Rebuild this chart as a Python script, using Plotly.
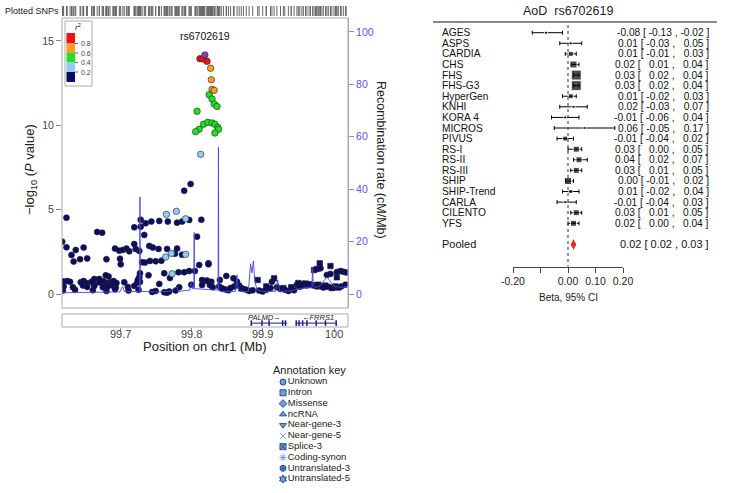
import plotly.graph_objects as go

W, H = 730, 493
def fx(p): return p / W
def fy(p): return 1 - p / H

FONT = "Liberation Sans, Arial, sans-serif"

# ---------------- Locus data ----------------
ref_pos = [99.819]; ref_logp = [14.17]
red_pos = [99.812, 99.816, 99.822]; red_logp = [13.95, 13.93, 13.79]
orange_pos = [99.827, 99.828, 99.829, 99.832]; orange_logp = [13.38, 12.70, 12.13, 12.07]
green_pos = [99.825, 99.829, 99.832, 99.836, 99.808, 99.817, 99.823, 99.829, 99.833, 99.837, 99.838, 99.811, 99.806, 99.833]
green_logp = [11.81, 11.56, 11.26, 11.12, 10.83, 10.06, 10.18, 10.14, 10.06, 9.88, 9.76, 9.76, 9.62, 9.54]
lblue_pos = [99.813, 99.765, 99.779, 99.792, 99.772, 99.764, 99.792, 99.773]
lblue_logp = [8.28, 4.72, 4.90, 4.46, 2.41, 2.19, 2.35, 1.20]
navy_pos = [99.625, 99.619, 99.625, 99.632, 99.638, 99.635, 99.644, 99.649, 99.654, 99.668, 99.675, 99.681,
            99.693, 99.699, 99.704, 99.709, 99.713, 99.720, 99.722, 99.727, 99.700, 99.701, 99.720, 99.729,
            99.736, 99.729, 99.734, 99.744, 99.755, 99.767, 99.780, 99.787, 99.797, 99.814, 99.808, 99.741,
            99.746, 99.754, 99.766, 99.780, 99.777, 99.787, 99.758, 99.742, 99.750, 99.731, 99.735, 99.824,
            99.811, 99.762, 99.782, 99.790, 99.797, 99.805, 99.740, 99.728, 99.727, 99.725, 99.680, 99.684,
            99.664, 99.671, 99.799, 99.790,
            99.620, 99.626, 99.630, 99.645, 99.649, 99.653, 99.660, 99.663, 99.671, 99.677, 99.681, 99.686,
            99.691, 99.695, 99.706, 99.724, 99.728,
            99.621, 99.634, 99.648, 99.654, 99.664, 99.676, 99.683, 99.690, 99.694, 99.711, 99.720,
            99.620, 99.637, 99.662, 99.681, 99.693, 99.712, 99.726,
            99.745, 99.750, 99.762, 99.766, 99.769, 99.778, 99.770, 99.783, 99.800, 99.755,
            99.815, 99.818, 99.822, 99.828, 99.824, 99.815, 99.826, 99.830,
            99.840, 99.849, 99.859, 99.839, 99.842, 99.845, 99.849, 99.852, 99.855, 99.860, 99.864, 99.867,
            99.870, 99.873, 99.877, 99.881, 99.886, 99.895, 99.900, 99.905, 99.911, 99.913, 99.920, 99.925,
            99.931, 99.936, 99.940, 99.944,
            99.948, 99.952, 99.957, 99.962, 99.967, 99.976, 99.985, 99.990, 99.995, 100.000, 100.004, 100.009,
            100.013, 100.017, 100.010, 100.016, 99.981]
navy_logp = [4.52, 3.10, 2.77, 2.31, 2.61, 1.92, 2.06, 2.75, 2.11, 3.68, 3.63, 2.06,
             2.69, 2.57, 2.61, 2.69, 2.53, 2.96, 2.67, 2.55, 2.09, 1.76, 3.95, 4.40,
             4.19, 3.99, 3.50, 4.29, 4.33, 4.29, 4.23, 4.29, 4.39, 4.40, 3.40, 2.85,
             2.75, 2.67, 2.67, 2.69, 2.39, 2.33, 1.97, 1.96, 1.94, 1.88, 1.86, 1.76,
             1.72, 1.23, 1.29, 1.29, 1.36, 1.36, 1.11, 1.23, 0.99, 0.83, 1.11, 1.03,
             0.89, 0.89, 6.52, 6.12,
             0.75, 0.77, 0.72, 0.70, 0.77, 0.65, 0.72, 0.60, 0.68, 0.75, 0.62, 0.70,
             0.77, 0.65, 0.70, 0.66, 0.72,
             0.45, 0.40, 0.50, 0.42, 0.48, 0.40, 0.45, 0.50, 0.38, 0.42, 0.48,
             0.20, 0.25, 0.22, 0.18, 0.28, 0.20, 0.25,
             0.12, 0.18, 0.10, 0.08, 0.15, 0.20, 0.95, 0.40, 0.55, 0.60,
             0.83, 0.77, 0.80, 0.72, 1.82, 0.53, 0.53, 0.40,
             0.83, 1.07, 0.93, 0.45, 0.35, 0.30, 0.25, 0.22, 0.35, 0.45, 0.73, 0.50,
             0.35, 0.30, 0.25, 0.18, 0.22, 0.20, 0.15, 0.25, 0.35, 0.73, 0.40, 0.30,
             0.25, 0.18, 0.28, 0.22,
             0.55, 0.43, 0.60, 0.50, 0.55, 0.45, 0.38, 1.13, 1.19, 0.40, 1.30, 1.36,
             1.32, 1.28, 0.45, 0.55, 1.52]
sq_pos = [99.893, 99.916, 99.972, 99.976, 99.980, 99.995, 99.950, 99.955, 99.960, 99.965, 99.970, 99.974,
          99.978, 99.983, 99.988, 99.992, 99.997, 100.002, 100.006, 99.905, 99.929, 99.940, 100.004]
sq_logp = [0.83, 0.93, 1.42, 1.48, 1.82, 1.66, 0.65, 0.50, 0.62, 0.58, 0.52, 0.50,
           0.55, 0.45, 0.50, 0.42, 0.35, 0.45, 0.38, 0.45, 0.35, 0.40, 0.99]

rec_pos = [99.619, 99.64, 99.66, 99.68, 99.70, 99.703, 99.704, 99.706, 99.72, 99.7275, 99.728, 99.7285,
           99.73, 99.75, 99.77, 99.778, 99.780, 99.782, 99.79, 99.798, 99.800, 99.802, 99.8035, 99.804,
           99.8045, 99.806, 99.82, 99.835, 99.8375, 99.838, 99.8385, 99.840, 99.85, 99.862, 99.864, 99.866,
           99.88, 99.883, 99.885, 99.887, 99.889, 99.892, 99.90, 99.918, 99.921, 99.924, 99.94, 99.96,
           99.969, 99.970, 99.971, 99.973, 99.98, 99.99, 100.0, 100.01, 100.02]
rec_rate = [0.5, 0.6, 0.5, 0.7, 0.8, 2.7, 2.8, 0.9, 1.0, 1.0, 37.0, 1.2,
            1.0, 0.8, 1.0, 2.6, 2.8, 1.0, 1.2, 1.5, 4.3, 2.0, 2.0, 23.5,
            2.0, 2.0, 1.8, 1.5, 1.5, 56.0, 1.5, 1.0, 1.0, 1.0, 7.3, 1.0,
            1.0, 11.5, 8.0, 12.6, 5.0, 1.5, 1.0, 1.0, 5.3, 1.0, 1.2, 2.5,
            2.5, 9.8, 3.0, 2.5, 3.0, 6.5, 3.0, 2.5, 3.0]

x_ticks = [99.7, 99.8, 99.9, 100.0]
x_ticktext = ["99.7", "99.8", "99.9", "100"]
y_ticks = [0, 5, 10, 15]
rec_ticks = [0, 20, 40, 60, 80, 100]

genes = ["PALMD\u2192", "\u2190FRRS1"]
gene_start = [99.884, 99.947]
gene_end = [99.934, 100.004]
gene_label_pos = [99.903, 99.978]
gene_exons = [[99.884, 99.899, 99.909, 99.928, 99.932],
              [99.947, 99.951, 99.956, 99.962, 99.975, 99.988, 100.003]]

r2_levels = ["0.8", "0.6", "0.4", "0.2"]
r2_colors = ["#ee1111", "#f4a020", "#22e022", "#8fcdf0", "#0c0c66"]

annot_names = ["Unknown", "Intron", "Missense", "ncRNA", "Near-gene-3", "Near-gene-5",
               "Splice-3", "Coding-synon", "Untranslated-3", "Untranslated-5"]
annot_symbols = ["circle", "square", "diamond", "triangle-up", "triangle-down", "x-thin-open",
                 "square-x", "asterisk-open", "circle-cross", "hexagram"]

# ---------------- Forest data ----------------
studies = ["AGES", "ASPS", "CARDIA", "CHS", "FHS", "FHS-G3", "HyperGen", "KNHI", "KORA 4", "MICROS",
           "PIVUS", "RS-I", "RS-II", "RS-III", "SHIP", "SHIP-Trend", "CARLA", "CILENTO", "YFS"]
beta = [-0.08, 0.01, 0.01, 0.02, 0.03, 0.03, 0.01, 0.02, -0.01, 0.06, -0.01, 0.03, 0.04, 0.03, 0.00, 0.01, -0.01, 0.03, 0.02]
ci_lo = [-0.13, -0.03, -0.01, 0.01, 0.02, 0.02, -0.02, -0.03, -0.06, -0.05, -0.04, 0.00, 0.02, 0.01, -0.01, -0.02, -0.04, 0.01, 0.00]
ci_hi = [-0.02, 0.05, 0.03, 0.04, 0.04, 0.04, 0.03, 0.07, 0.04, 0.17, 0.02, 0.05, 0.07, 0.05, 0.02, 0.04, 0.03, 0.05, 0.04]
weight = [3, 3, 5, 7, 10, 10, 5, 3, 3, 3, 5, 6, 6, 6, 7, 4, 3, 6, 6]
pooled = [0.02, 0.02, 0.03]
forest_ticks = [-0.2, -0.1, 0.0, 0.1, 0.2]
forest_ticktext = ["-0.20", " ", "0.00", "0.10", "0.20"]

fig = go.Figure()

# recombination line (right axis)
fig.add_trace(go.Scatter(x=rec_pos, y=rec_rate, xaxis="x", yaxis="y2", mode="lines",
                         line=dict(color="rgba(70,70,225,0.9)", width=1), hoverinfo="skip"))

def pts(xs, ys, color, symbol="circle", size=6):
    fig.add_trace(go.Scatter(x=xs, y=ys, xaxis="x", yaxis="y", mode="markers",
                             marker=dict(color=color, symbol=symbol, size=size,
                                         line=dict(color="#222", width=0.6))))

pts(navy_pos, navy_logp, r2_colors[4])
pts(sq_pos, sq_logp, r2_colors[4], symbol="square", size=5.5)
pts(lblue_pos, lblue_logp, r2_colors[3], size=6.5)
pts(green_pos, green_logp, r2_colors[2], size=6.5)
pts(orange_pos, orange_logp, r2_colors[1], size=6.5)
pts(red_pos, red_logp, r2_colors[0], size=6.5)
pts(ref_pos, ref_logp, "#8a3cb0", size=6.5)

# rug of plotted SNPs
all_pos = sorted(navy_pos + sq_pos + lblue_pos + green_pos + orange_pos + red_pos + ref_pos)
fig.add_trace(go.Scatter(x=all_pos, y=[0.5] * len(all_pos), xaxis="x4", yaxis="y4", mode="markers",
                         marker=dict(symbol="line-ns-open", size=9, color="#666",
                                     line=dict(color="#666", width=1))))

# genes
for i in range(len(genes)):
    fig.add_trace(go.Scatter(x=[gene_start[i], gene_end[i]], y=[0.3, 0.3], xaxis="x3", yaxis="y3",
                             mode="lines", line=dict(color="#1a1a90", width=1)))
    fig.add_trace(go.Scatter(x=gene_exons[i], y=[0.3] * len(gene_exons[i]), xaxis="x3", yaxis="y3",
                             mode="markers", marker=dict(symbol="line-ns-open", size=4, color="#1a1a90",
                                                         line=dict(color="#1a1a90", width=1.5))))
    fig.add_annotation(x=gene_label_pos[i], y=0.72, xref="x3", yref="y3", text="<i>" + genes[i] + "</i>",
                       showarrow=False, xanchor="center", yanchor="middle",
                       font=dict(size=7.5, color="#222", family=FONT))

# annotation key
fig.add_trace(go.Scatter(x=[0] * len(annot_names), y=list(range(len(annot_names))), xaxis="x6", yaxis="y6",
                         mode="markers+text", text=annot_names, textposition="middle right",
                         textfont=dict(size=9.5, color="#222", family=FONT),
                         marker=dict(symbol=annot_symbols, size=6, color="#6f9fd8",
                                     line=dict(color="#2a4a8a", width=1)), cliponaxis=False))

# forest
rows = list(range(len(studies)))
fig.add_trace(go.Scatter(x=beta, y=rows, xaxis="x5", yaxis="y5", mode="markers",
                         marker=dict(symbol="square", size=weight, color="black"),
                         error_x=dict(type="data", symmetric=False,
                                      array=[h - b for h, b in zip(ci_hi, beta)],
                                      arrayminus=[b - l for b, l in zip(beta, ci_lo)],
                                      thickness=1, width=2, color="black"), cliponaxis=False))
pooled_row = len(studies) + 1
fig.add_trace(go.Scatter(x=[pooled[0]], y=[pooled_row], xaxis="x5", yaxis="y5", mode="markers",
                         marker=dict(symbol="diamond-tall", size=8, color="#e03020")))

NB = "\u00a0"
def fmt(v):
    s = f"{v:.2f}"
    return (NB + NB + s) if v >= 0 else s

for r, name in enumerate(studies):
    fig.add_annotation(x=fx(440), xref="paper", xanchor="left", yanchor="middle", y=r, yref="y5", text=name,
                       showarrow=False, font=dict(size=10.2, color="#111", family=FONT))
    txt = f"{beta[r]:.2f} [{NB}{fmt(ci_lo[r])}{NB},{NB}{fmt(ci_hi[r])}{NB}]"
    fig.add_annotation(x=fx(711), xref="paper", xanchor="right", yanchor="middle", y=r, yref="y5", text=txt,
                       showarrow=False, font=dict(size=10.2, color="#111", family=FONT))
fig.add_annotation(x=fx(440), xref="paper", xanchor="left", yanchor="middle", y=pooled_row, yref="y5",
                   text="Pooled", showarrow=False, font=dict(size=11, color="#111", family=FONT))
fig.add_annotation(x=fx(711), xref="paper", xanchor="right", yanchor="middle", y=pooled_row, yref="y5",
                   text=f"{pooled[0]:.2f} [ {pooled[1]:.2f} , {pooled[2]:.2f} ]",
                   showarrow=False, font=dict(size=11, color="#111", family=FONT))

# ---------------- text annotations ----------------
def ann(x, y, text, size, color="#222", xanchor="center", yanchor="middle", **kw):
    fig.add_annotation(x=x, y=y, xref="paper", yref="paper", text=text, showarrow=False,
                       xanchor=xanchor, yanchor=yanchor,
                       font=dict(size=size, color=color, family=FONT), **kw)

ann(fx(568), fy(11), "AoD  rs6702619", 12.5)
ann(fx(568), fy(297), "Beta, 95% CI", 10)
ann(fx(3), fy(11), "Plotted SNPs", 9, xanchor="left")
ann(fx(30), fy(170), "\u2212log<sub>10</sub> (<i>P</i> value)", 13, textangle=-90)
ann(fx(381), fy(160), "Recombination rate (cM/Mb)", 12.5, textangle=90)
ann(fx(205), fy(346), "Position on chr1 (Mb)", 13)
ann(fx(309), fy(370), "Annotation key", 11)
fig.add_annotation(x=ref_pos[0], y=15.3, xref="x", yref="y", text="rs6702619", showarrow=False,
                   xanchor="center", yanchor="middle", font=dict(size=10.5, color="#111", family=FONT))
for xv, tt in zip(x_ticks, x_ticktext):
    fig.add_annotation(x=xv, y=fy(334), xref="x3", yref="paper", text=tt, showarrow=False,
                       xanchor="center", yanchor="middle", font=dict(size=11, color="#444", family=FONT))

# r2 legend
shapes = []
shapes.append(dict(type="rect", xref="paper", yref="paper", x0=fx(65), x1=fx(92), y0=fy(86), y1=fy(21),
                   line=dict(color="#aaa", width=1), fillcolor="white"))
bounds = [33, 43.5, 53, 62.5, 72, 82]
for i, c in enumerate(r2_colors):
    shapes.append(dict(type="rect", xref="paper", yref="paper", x0=fx(66.5), x1=fx(75),
                       y0=fy(bounds[i + 1]), y1=fy(bounds[i]), line=dict(width=0), fillcolor=c))
for i, lab in enumerate(r2_levels):
    yb = bounds[i + 1]
    shapes.append(dict(type="line", xref="paper", yref="paper", x0=fx(75), x1=fx(78), y0=fy(yb), y1=fy(yb),
                       line=dict(color="#666", width=1)))
    ann(fx(79), fy(yb), lab, 7, color="#444", xanchor="left")
ann(fx(78), fy(27), "<i>r</i><sup>2</sup>", 8, color="#222")

# locus box
shapes.append(dict(type="rect", xref="paper", yref="paper", x0=fx(62), x1=fx(348), y0=fy(308), y1=fy(18),
                   line=dict(color="#aaa", width=1)))
# gene box
shapes.append(dict(type="rect", xref="paper", yref="paper", x0=fx(62), x1=fx(348), y0=fy(327), y1=fy(314),
                   line=dict(color="#aaa", width=1)))
# forest header line and zero line
shapes.append(dict(type="line", xref="paper", yref="paper", x0=fx(433), x1=fx(717), y0=fy(22), y1=fy(22),
                   line=dict(color="#888", width=2)))
shapes.append(dict(type="line", xref="x5", yref="paper", x0=0, x1=0, y0=fy(25), y1=fy(266.5),
                   line=dict(color="#333", width=1, dash="dot")))

x_rng = [99.6187, 100.0196]
fig.update_layout(
    template="none",
    width=W, height=H, margin=dict(l=0, r=0, t=0, b=0, pad=0), autosize=False,
    paper_bgcolor="white", plot_bgcolor="white", showlegend=False,
    font=dict(family=FONT),
    shapes=shapes,
    xaxis=dict(domain=[fx(62), fx(348)], range=x_rng, showticklabels=False, ticks="", showgrid=False,
               zeroline=False, anchor="y", automargin=False, showline=False),
    yaxis=dict(domain=[fy(308), fy(18)], range=[-0.83, 16.36], tickvals=y_ticks, ticks="outside", ticklen=5,
               tickcolor="#888", tickfont=dict(size=10.5, color="#444"), showgrid=False, zeroline=False,
               anchor="x", automargin=False, showline=False),
    yaxis2=dict(overlaying="y", side="right", anchor="x", range=[-5.34, 105.3], tickvals=rec_ticks,
                ticks="outside", ticklen=5, tickcolor="#8888dd", tickfont=dict(size=10.5, color="#5555dd"),
                showline=True, linecolor="#a0a0e0", showgrid=False, zeroline=False, automargin=False),
    xaxis3=dict(domain=[fx(62), fx(348)], range=x_rng, anchor="y3", tickvals=x_ticks, showticklabels=False,
                ticks="outside", ticklen=4, tickcolor="#888", showgrid=False, zeroline=False,
                automargin=False, showline=False),
    yaxis3=dict(domain=[fy(327), fy(314)], range=[0, 1], visible=False, anchor="x3", automargin=False),
    xaxis4=dict(domain=[fx(62), fx(348)], range=x_rng, anchor="y4", visible=False, automargin=False),
    yaxis4=dict(domain=[fy(16), fy(6)], range=[0, 1], visible=False, anchor="x4", automargin=False),
    xaxis5=dict(domain=[fx(513), fx(623)], range=[-0.2, 0.2], anchor="free", position=fy(266.7),
                tickvals=forest_ticks, ticktext=forest_ticktext, ticks="outside", ticklen=5,
                tickcolor="#444", showline=True, linecolor="#444", linewidth=1,
                tickfont=dict(size=10.5, color="#222"), showgrid=False, zeroline=False, automargin=False),
    yaxis5=dict(domain=[0, 1], range=[43.47, -3.088], visible=False, anchor="x5", automargin=False),
    xaxis6=dict(domain=[fx(280), fx(380)], range=[-0.03, 0.97], visible=False, anchor="y6", automargin=False),
    yaxis6=dict(domain=[fy(486), fy(376)], range=[9.647, -0.557], visible=False, anchor="x6", automargin=False),
)

fig.write_html("out.html", config={"displayModeBar": False},
               post_script="document.body.style.margin='0px';")
